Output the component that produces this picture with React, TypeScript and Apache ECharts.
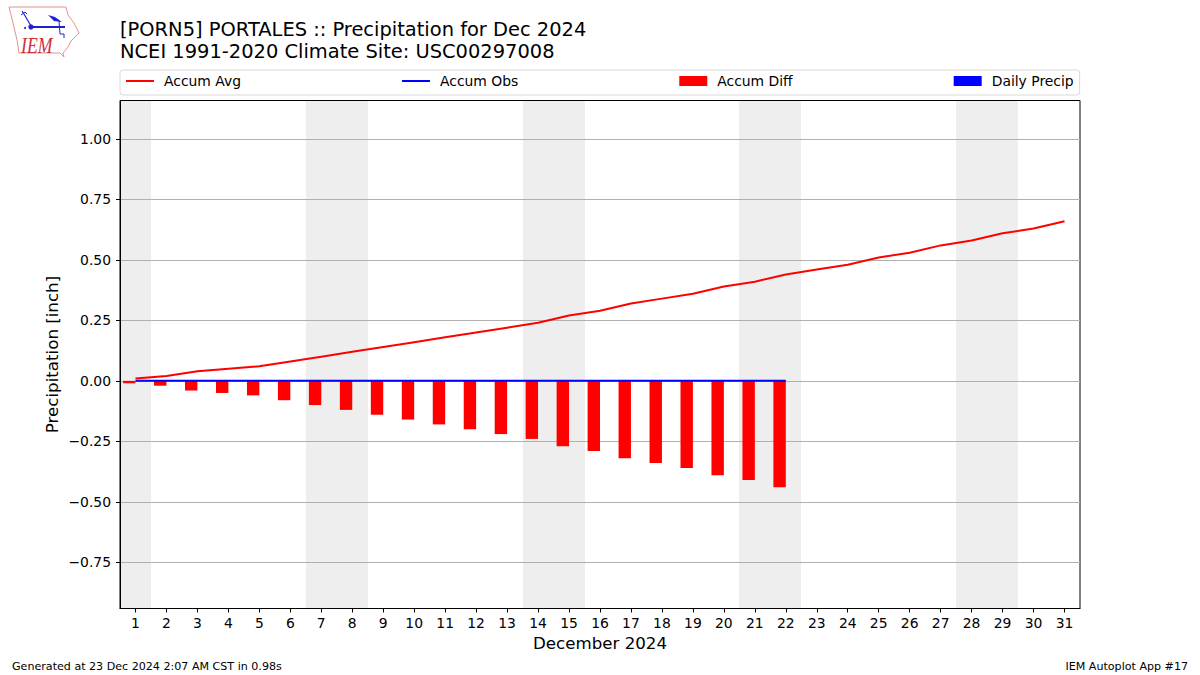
import React, { useEffect, useRef } from "react";
import * as echarts from "echarts";

const days = ["1","2","3","4","5","6","7","8","9","10","11","12","13","14","15","16","17","18","19","20","21","22","23","24","25","26","27","28","29","30","31"];
const accumAvg = [0.01,0.02,0.04,0.05,0.06,0.08,0.10,0.12,0.14,0.16,0.18,0.20,0.22,0.24,0.27,0.29,0.32,0.34,0.36,0.39,0.41,0.44,0.46,0.48,0.51,0.53,0.56,0.58,0.61,0.63,0.66];
const accumObs = [0,0,0,0,0,0,0,0,0,0,0,0,0,0,0,0,0,0,0,0,0,0];
const accumDiff = [-0.01,-0.02,-0.04,-0.05,-0.06,-0.08,-0.10,-0.12,-0.14,-0.16,-0.18,-0.20,-0.22,-0.24,-0.27,-0.29,-0.32,-0.34,-0.36,-0.39,-0.41,-0.44];
const dailyPrecip = [0,0,0,0,0,0,0,0,0,0,0,0,0,0,0,0,0,0,0,0,0,0];
const weekendDays = ["1","7","8","14","15","21","22","28","29"];
const yTicks = [-0.75,-0.5,-0.25,0,0.25,0.5,0.75,1.0];
const yMin = -0.941;
const yMax = 1.159;

const FONT = "DejaVu Sans";
const iowa = [[9,7],[66,7],[68,15],[74,23],[79,33],[71,41],[68,47],[63,53],[64,57],[60,53],[19,53],[17,40],[13,23],[11,15]];
const LINE_ICON = "path://M0 0L0 0M0 4H28V6H0ZM0 10L0 10";

export default function App() {
  const ref = useRef<HTMLDivElement>(null);
  useEffect(() => {
    const chart = echarts.init(ref.current!, undefined, { renderer: "svg" });
    chart.setOption({
      animation: false,
      backgroundColor: "#fff",
      textStyle: { fontFamily: FONT },
      title: [
        { text: "[PORN5] PORTALES :: Precipitation for Dec 2024\nNCEI 1991-2020 Climate Site: USC00297008", left: 120, top: 18, padding: 0,
          textStyle: { fontFamily: FONT, fontSize: 19.45, fontWeight: "normal", color: "#000", lineHeight: 22 } },
        { text: "Generated at 23 Dec 2024 2:07 AM CST in 0.98s", left: 12, top: 661, padding: 0,
          textStyle: { fontFamily: FONT, fontSize: 11.1, fontWeight: "normal", color: "#000" } },
        { text: "IEM Autoplot App #17", right: 12, top: 661, padding: 0,
          textStyle: { fontFamily: FONT, fontSize: 11.1, fontWeight: "normal", color: "#000" } },
      ],
      legend: {
        left: 120, top: 70, padding: [4, 6, 7, 6], itemGap: 161, itemWidth: 28, itemHeight: 10,
        borderColor: "#d8d8d8", borderWidth: 1, borderRadius: 3, backgroundColor: "#fff",
        textStyle: { fontFamily: FONT, fontSize: 13.9, color: "#000", padding: [0, 0, 0, 5] },
        data: [
          { name: "Accum Avg", icon: LINE_ICON },
          { name: "Accum Obs", icon: LINE_ICON },
          { name: "Accum Diff", icon: "rect" },
          { name: "Daily Precip", icon: "rect" },
        ],
      },
      grid: { left: 120, right: 120, top: 100.5, bottom: 66.5, show: true, borderColor: "#000", borderWidth: 1, backgroundColor: "transparent" },
      xAxis: {
        type: "category", data: days, name: "December 2024", nameLocation: "middle", nameGap: 26,
        nameTextStyle: { fontFamily: FONT, fontSize: 16.67, color: "#000" },
        axisLine: { show: true, onZero: false, lineStyle: { color: "#000", width: 1 } },
        axisTick: { show: true, alignWithLabel: true, length: 4, lineStyle: { color: "#000" } },
        axisLabel: { interval: 0, color: "#000", fontFamily: FONT, fontSize: 13.9, margin: 7 },
        splitLine: { show: false },
      },
      yAxis: {
        type: "value", min: yMin, max: yMax, name: "Precipitation [inch]", nameLocation: "middle", nameGap: 59, nameMoveOverlap: false,
        nameTextStyle: { fontFamily: FONT, fontSize: 16.67, color: "#000" },
        axisLine: { show: true, lineStyle: { color: "#000", width: 1 } },
        axisTick: { show: true, length: 4, customValues: yTicks, lineStyle: { color: "#000" } },
        axisLabel: { color: "#000", fontFamily: FONT, fontSize: 13.9, margin: 9, customValues: yTicks,
          formatter: (v: number) => v.toFixed(2).replace("-", "\u2212") },
        splitLine: { show: true, lineStyle: { color: "#b0b0b0", width: 1 } },
      },
      graphic: [
        { type: "polygon", silent: true, shape: { points: iowa }, style: { fill: "#fff", stroke: "#e59090", lineWidth: 1 } },
        { type: "polyline", silent: true, shape: { points: [[31,27],[65,27]] }, style: { stroke: "#2020d0", lineWidth: 2, fill: "none" } },
        { type: "polyline", silent: true, shape: { points: [[31,26],[24,14],[22,11]] }, style: { stroke: "#2020d0", lineWidth: 1.2, fill: "none" } },
        { type: "polyline", silent: true, shape: { points: [[21,15],[25,12],[27,14]] }, style: { stroke: "#2020d0", lineWidth: 1, fill: "none" } },
        { type: "polygon", silent: true, shape: { points: [[48,15],[55,17],[62,22],[54,21]] }, style: { fill: "#2020d0" } },
        { type: "polyline", silent: true, shape: { points: [[59,21],[60,34],[64,34],[64,38]] }, style: { stroke: "#2020d0", lineWidth: 1, fill: "none" } },
        { type: "circle", silent: true, shape: { cx: 31, cy: 27, r: 2.7 }, style: { fill: "#2020d0" } },
        { type: "circle", silent: true, shape: { cx: 25, cy: 28, r: 1 }, style: { fill: "#2020d0" } },
        { type: "text", silent: true, x: 21, y: 34, scaleX: 0.77, style: { text: "IEM", fontFamily: "Liberation Serif", fontStyle: "italic", fontSize: 23, fill: "#d0303a" } },
      ],
      series: [
        {
          type: "custom", name: "Weekend", silent: true, z: -1, clip: true,
          data: weekendDays.map((d) => [d, 0]),
          encode: { x: 0, y: 1 },
          renderItem: (p: any, api: any) => {
            const center = api.coord([api.value(0), 0])[0];
            const w = api.size([1, 0])[0];
            const cs = p.coordSys;
            const x0 = Math.round(center - w / 2);
            const x1 = Math.round(center + w / 2);
            return { type: "rect", shape: { x: x0, y: cs.y, width: x1 - x0, height: cs.height }, style: { fill: "#eeeeee" } };
          },
        },
        { type: "bar", name: "Accum Diff", data: accumDiff, barWidth: 12.4, barGap: 0, itemStyle: { color: "#ff0000" }, z: 2 },
        { type: "bar", name: "Daily Precip", data: dailyPrecip, barWidth: 12.4, barGap: 0, itemStyle: { color: "#0000ff" }, z: 2 },
        { type: "line", name: "Accum Avg", data: accumAvg, symbol: "none", lineStyle: { color: "#ff0000", width: 2 }, itemStyle: { color: "#ff0000" }, z: 3 },
        { type: "line", name: "Accum Obs", data: accumObs, symbol: "none", lineStyle: { color: "#0000ff", width: 2 }, itemStyle: { color: "#0000ff" }, z: 4 },
      ],
    });
    return () => chart.dispose();
  }, []);
  return <div ref={ref} style={{ position: "fixed", left: 0, top: 0, width: 1200, height: 675 }} />;
}
